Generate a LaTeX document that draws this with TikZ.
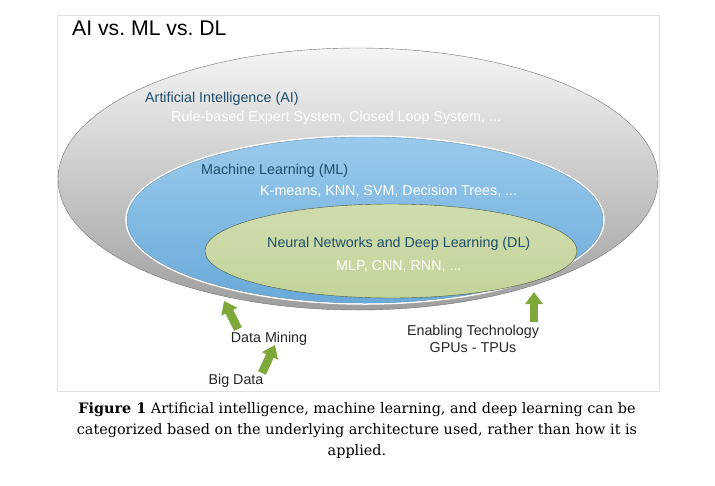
\documentclass[tikz,border=0pt]{standalone}
\usepackage{fontspec}
\setmainfont{Liberation Sans}
\newfontfamily\captionfont{DejaVu Serif}
\usetikzlibrary{shapes.geometric, positioning, arrows.meta}

\definecolor{labelblue}{HTML}{1F4E6B}
\definecolor{arrowgreen}{HTML}{7FA83A}
\definecolor{dlgreen}{HTML}{C3D49A}
\definecolor{mlblue}{HTML}{6FB3E4}

\begin{document}
\begin{tikzpicture}[
    x=1pt, y=-1pt,
    every node/.style={inner sep=0pt, font=\fontsize{14.3}{17}\selectfont},
    title/.style={anchor=west, font=\fontsize{21.2}{25}\selectfont},
    head/.style={anchor=west, text=labelblue},
    items/.style={anchor=west, text=white},
    plain/.style={text=black!85},
    uparrow/.style={-{Triangle[width=17pt, length=12pt]}, line width=8.5pt, draw=arrowgreen}
]
\useasboundingbox[fill=white] (0,0) rectangle (715,485);
\draw[black!12] (57,15) rectangle (659,391);

\node[title] (t) at (72,28) {AI vs.\ ML vs.\ DL};

% the three nested sets
\node[ellipse, draw=black!55, top color=black!4, bottom color=black!38,
      minimum width=600, minimum height=262] (ai) at (358,179) {};
\node[ellipse, draw=white, line width=1.5pt, top color=mlblue!70, bottom color=mlblue!95!black,
      minimum width=478, minimum height=168] (ml) at (365,220) {};
\node[ellipse, draw=labelblue!60, line width=0.4pt, fill=none, minimum width=476, minimum height=166] at (ml) {};
\node[ellipse, draw=black!60!dlgreen, top color=dlgreen!80, bottom color=dlgreen,
      minimum width=372, minimum height=94] (dl) at (391,251) {};

\node[head] (aih) at (145,99) {Artificial Intelligence (AI)};
\node[items] (aii) at (171,118) {Rule-based Expert System, Closed Loop System, ...};
\node[head] (mlh) at (201,171) {Machine Learning (ML)};
\node[items] (mli) at (260,191) {K-means, KNN, SVM, Decision Trees, ...};
\node[head] (dlh) at (267,244) {Neural Networks and Deep Learning (DL)};
\node[items] (dli) at (336,266) {MLP, CNN, RNN, ...};

% what feeds into it
\node[plain] (dm) at (269,339) {Data Mining};
\node[plain] (bd) at (236,381) {Big Data};
\node[plain, align=center] (et) at (473,339) {Enabling Technology\\GPUs - TPUs};

\coordinate (dmtail) at (238,329);
\coordinate (dmtip) at (224,301);
\coordinate (bdtail) at (262,373);
\coordinate (bdtip) at (275,345);
\coordinate (ettail) at (534,322);
\coordinate (ettip) at (534,292);
\draw[uparrow] (dmtail) -- (dmtip);
\draw[uparrow] (bdtail) -- (bdtip);
\draw[uparrow] (ettail) -- (ettip);

\node[align=center, font=\captionfont\fontsize{14.4}{21}\selectfont] (cap) at (357,431)
  {\textbf{Figure 1} Artificial intelligence, machine learning, and deep learning can be\\
   categorized based on the underlying architecture used, rather than how it is\\
   applied.};
\end{tikzpicture}
\end{document}
